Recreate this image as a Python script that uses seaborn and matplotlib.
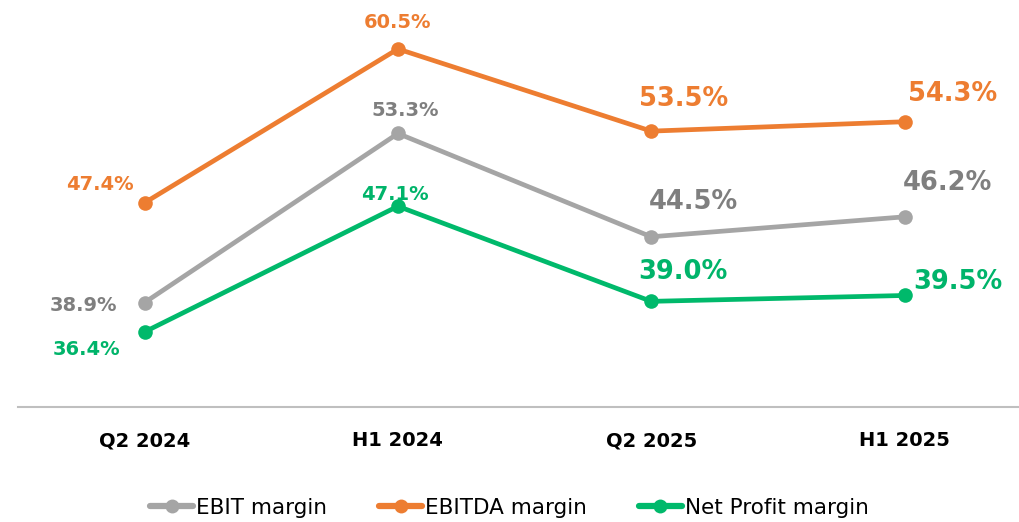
import matplotlib
matplotlib.use('Agg')
import matplotlib.pyplot as plt
import pandas as pd
import seaborn as sns
from matplotlib.lines import Line2D

# chart data
periods = ['Q2 2024', 'H1 2024', 'Q2 2025', 'H1 2025']
ebit_margin = [38.9, 53.3, 44.5, 46.2]
ebitda_margin = [47.4, 60.5, 53.5, 54.3]
net_margin = [36.4, 47.1, 39.0, 39.5]
series_names = ['EBIT margin', 'EBITDA margin', 'Net Profit margin']

line_colors = {'EBIT margin': '#A5A5A5', 'EBITDA margin': '#ED7D31', 'Net Profit margin': '#00B96B'}
text_colors = {'EBIT margin': '#7F7F7F', 'EBITDA margin': '#ED7D31', 'Net Profit margin': '#00B46A'}

# label offsets in pixels (dx, dy), one per point
label_offsets = {
    'EBIT margin': [(-61, -3), (7, 23), (42, 35), (43, 34)],
    'EBITDA margin': [(-45, 18), (0, 26), (32, 32), (48, 28)],
    'Net Profit margin': [(-58, -18), (-3, 12), (32, 29), (53, 13)],
}
label_sizes = [14, 14, 18.5, 18.5]

df = pd.DataFrame({
    'period': periods * 3,
    'value': ebit_margin + ebitda_margin + net_margin,
    'metric': [n for n in series_names for _ in periods],
})

sns.set_style('white')
plt.rcParams['font.family'] = ['DejaVu Sans']

fig = plt.figure(figsize=(10.19, 5.22), dpi=100)
ax = fig.add_axes([18 / 1019, 115 / 522, 1001 / 1019, 407 / 522])

sns.lineplot(data=df, x='period', y='value', hue='metric', palette=line_colors,
             marker='o', markersize=10.5, markeredgewidth=0, linewidth=3.4,
             sort=False, ax=ax, legend=False)

ax.set_xlim(-0.5, 3.452)
ax.set_ylim(30, 64.67)

# value labels
for name, vals in zip(series_names, [ebit_margin, ebitda_margin, net_margin]):
    for i, v in enumerate(vals):
        dx, dy = label_offsets[name][i]
        ax.annotate(f'{v:.1f}%', (i, v), xytext=(dx, dy), textcoords='offset pixels',
                    ha='center', va='center', fontsize=label_sizes[i],
                    fontweight='bold', color=text_colors[name])

for s in ['top', 'right', 'left']:
    ax.spines[s].set_visible(False)
ax.spines['bottom'].set_color('#BFBFBF')
ax.spines['bottom'].set_linewidth(1.5)
ax.set_yticks([])
ax.set_xlabel('')
ax.set_ylabel('')
ax.tick_params(axis='x', direction='inout', length=9, width=1, color='#BFBFBF',
               pad=13, labelsize=14)
for t in ax.get_xticklabels():
    t.set_fontweight('bold')
    t.set_color('black')

handles = [Line2D([0], [0], color=line_colors[n], lw=4.5, marker='o', markersize=10,
                  markeredgewidth=0) for n in series_names]
leg = fig.legend(handles, series_names, loc='center', bbox_to_anchor=(0.5, 14 / 522),
                 ncol=3, frameon=False, fontsize=15.5, handlelength=2.0,
                 handletextpad=0.15, columnspacing=2.4)
for t in leg.get_texts():
    t.set_color('black')

fig.savefig('out.png', dpi=100)
